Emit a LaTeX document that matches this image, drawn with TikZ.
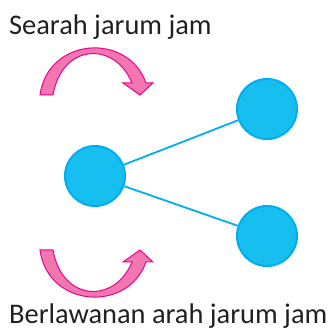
\documentclass[tikz,border=0pt]{standalone}
\usepackage{fontspec}
\setmainfont{Carlito}
\definecolor{cyanfill}{HTML}{17BFF0}
\definecolor{cyanline}{HTML}{00AEEF}
\definecolor{pinkfill}{HTML}{F277B0}
\definecolor{pinkline}{HTML}{EC008C}
\definecolor{txt}{HTML}{231F20}
\begin{document}
\begin{tikzpicture}[x=1pt,y=1pt,
  dot/.style={circle,fill=cyanfill,draw=cyanline,line width=2pt,minimum size=60pt,inner sep=0pt},
  link/.style={draw=cyanline,line width=1.8pt},
  turn/.style={fill=pinkfill,draw=pinkline,line width=1pt,line join=miter},
  lbl/.style={anchor=base west,inner sep=0pt,text=txt,font=\fontsize{28.4}{30}\selectfont}]
\useasboundingbox (0,0) rectangle (330,330);
\node[lbl] (t1) at (9,295) {Searah jarum jam};
\node[lbl] (t2) at (9,6.2) {Berlawanan arah jarum jam};
\node[dot] (c) at (95,154) {};
\node[dot] (a) at (267,221) {};
\node[dot] (b) at (267,94) {};
\draw[link] (c) -- (a);
\draw[link] (c) -- (b);
\path[turn] (40,235) .. controls (48,293) and (128,298) .. (146,247) -- (153,247) -- (140,235) -- (123,247) -- (132,247) .. controls (115,289) and (62,287) .. (53,235) -- cycle;
\begin{scope}[shift={(0,315)},yscale=-1]
\path[turn] (40,235) .. controls (48,293) and (128,298) .. (146,247) -- (153,247) -- (140,235) -- (123,247) -- (132,247) .. controls (115,289) and (62,287) .. (53,235) -- cycle;
\end{scope}
\end{tikzpicture}
\end{document}
